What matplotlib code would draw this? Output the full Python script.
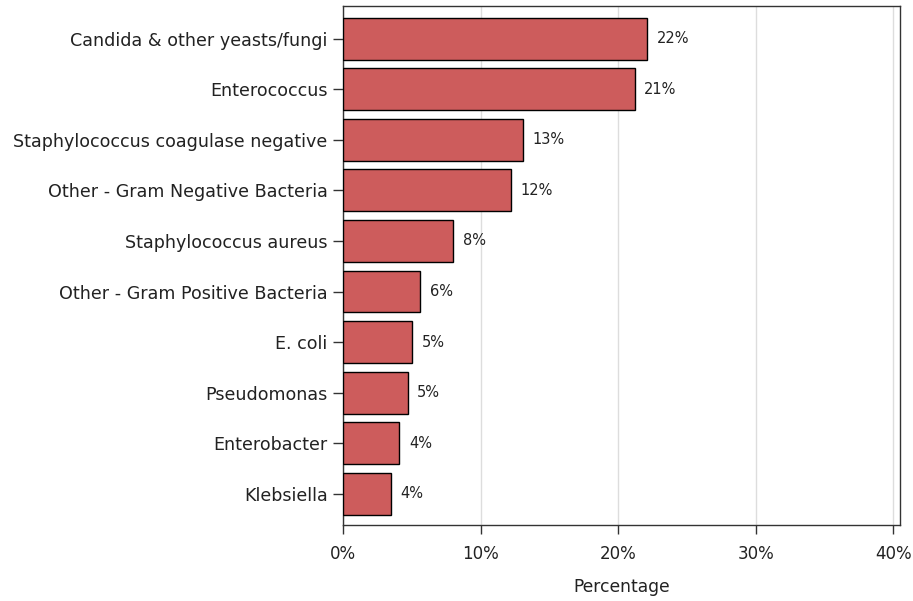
import matplotlib
matplotlib.use("Agg")
import matplotlib.pyplot as plt

categories = ["Candida & other yeasts/fungi", "Enterococcus",
              "Staphylococcus coagulase negative", "Other - Gram Negative Bacteria",
              "Staphylococcus aureus", "Other - Gram Positive Bacteria",
              "E. coli", "Pseudomonas", "Enterobacter", "Klebsiella"]
values = [22.1, 21.2, 13.1, 12.2, 8.0, 5.6, 5.0, 4.7, 4.1, 3.5]
value_labels = ["22%", "21%", "13%", "12%", "8%", "6%", "5%", "5%", "4%", "4%"]
xticks = [0, 10, 20, 30, 40]
xtick_labels = ["0%", "10%", "20%", "30%", "40%"]

plt.rcParams['font.family'] = ['DejaVu Sans']

fig = plt.figure(figsize=(9.13, 6.01), dpi=100)
ax = fig.add_axes([343/913, 1-525/601, (900-343)/913, (525-6)/601])

ypos = list(range(len(categories)))
ax.barh(ypos, values, height=0.83, color="#CD5C5C", edgecolor="black", linewidth=1.0, zorder=3)
for y, v, lab in zip(ypos, values, value_labels):
    ax.text(v + 0.7, y, lab, va="center", ha="left", fontsize=10.5, color="#222222", zorder=4)

ax.set_yticks(ypos)
ax.set_yticklabels(categories, fontsize=12.6, color="#222222")
ax.set_ylim(9.62, -0.65)
ax.set_xlim(0, 40.5)
ax.set_xticks(xticks)
ax.set_xticklabels(xtick_labels, fontsize=12, color="#222222")
ax.set_xlabel("Percentage", fontsize=12.3, color="#222222", labelpad=11)

ax.grid(axis="x", color="#dddddd", linewidth=1.0, zorder=0)
ax.set_axisbelow(True)
for s in ax.spines.values():
    s.set_color("#333333")
    s.set_linewidth(1.0)
ax.tick_params(axis="y", length=7, width=1, pad=4, color="#333333")
ax.tick_params(axis="x", length=6.5, width=1, pad=8, color="#333333")

fig.savefig("out.png", dpi=100)
